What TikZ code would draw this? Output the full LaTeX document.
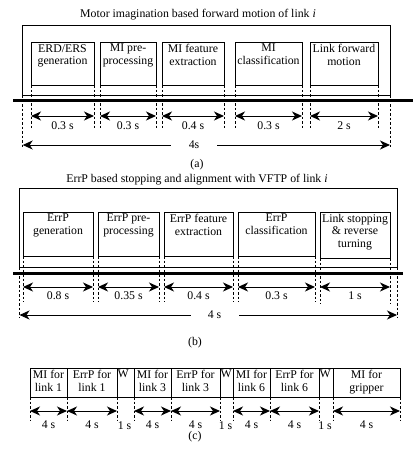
\documentclass[tikz,border=0pt]{standalone}
\usepackage{fontspec}
\setmainfont{Liberation Serif}
\usetikzlibrary{arrows.meta}
\newcommand\fs{\fontsize{11.8}{12.5}\selectfont}
\newcommand\stagebox[6]{%
  \node[stage, minimum width={(#3-#2)*1pt}, minimum height={(#5-#4)*1pt}] (#1) at ({(#2+#3)/2},{(#4+#5)/2}) {};
  \node[stagetext] (#1t) at ([yshift=-2pt]#1.north) {#6};
}
\tikzset{
  stage/.style={draw, line width=0.7pt, inner sep=0pt, outer sep=0pt},
  stagetext/.style={anchor=north, align=center, inner sep=0pt, font=\fs},
  lbl/.style={font=\fs, inner sep=1pt},
  dim/.style={{Stealth[length=10pt,width=9pt,inset=3pt]}-{Stealth[length=10pt,width=9pt,inset=3pt]}, line width=1pt},
  guide/.style={line width=0.6pt, dash pattern=on 2.5pt off 2pt},
  axisline/.style={line width=3pt},
}
\begin{document}
\begin{tikzpicture}[x=1pt,y=-1pt]
\useasboundingbox (0,0) rectangle (420,451);
% ---------------- (a)
\node[lbl] (ta) at (198,15) {Motor imagination based forward motion of link \textit{i}};
\node[stage, minimum width=367.3pt, minimum height=70pt] (oa) at (206.35,60) {};
\coordinate (la1) at (13,100); \coordinate (la2) at (413,100);
\draw[axisline] (la1) -- (la2);
\stagebox{a1}{31}{94}{42}{85}{ERD/ERS\\generation}
\stagebox{a2}{100}{156}{42}{85}{MI pre-\\processing}
\stagebox{a3}{162}{224}{42}{85}{MI feature\\extraction}
\stagebox{a4}{235}{302}{42}{85}{MI\\classification}
\stagebox{a5}{310}{378}{42}{85}{Link forward\\motion}
\foreach \b/\l in {a1/0.3 s,a2/0.3 s,a3/0.4 s,a4/0.3 s,a5/2 s}{
  \draw[guide] (\b.south west) -- ++(0,43);
  \draw[guide] (\b.south east) -- ++(0,43);
  \draw[dim] ([yshift=-31pt]\b.south west) -- ([yshift=-31pt]\b.south east)
     node[midway, below=4pt, lbl] (\b l) {\l};
}
\draw[guide] (oa.south west) -- ++(0,52);
\draw[guide] (oa.south east) -- ++(0,52);
\coordinate (ba1) at ([yshift=-50pt]oa.south west);
\coordinate (ba2) at ([yshift=-50pt]oa.south east);
\draw[dim] (ba1) -- (ba2);
\node[lbl, fill=white, minimum width=46pt] (tota) at (194,145) {4s};
\node[lbl] (capa) at (197,165) {(a)};
% ---------------- (b)
\node[lbl] (tb) at (197,180) {ErrP based stopping and alignment with VFTP of link \textit{i}};
\node[stage, minimum width=377.5pt, minimum height=79pt] (ob) at (208.25,227.5) {};
\coordinate (lb1) at (13,273); \coordinate (lb2) at (403,273);
\draw[axisline] (lb1) -- (lb2);
\stagebox{b1}{23}{93}{212}{256}{ErrP\\generation}
\stagebox{b2}{98}{159}{212}{256}{ErrP pre-\\processing}
\stagebox{b3}{164}{233}{212}{256}{ErrP feature\\extraction}
\stagebox{b4}{238}{315}{212}{256}{ErrP\\classification}
\stagebox{b5}{320}{390}{212}{258}{Link stopping\\\& reverse\\turning}
\foreach \b/\l/\d in {b1/0.8 s/31,b2/0.35 s/31,b3/0.4 s/31,b4/0.3 s/31,b5/1 s/29}{
  \draw[guide] (\b.south west) -- ++(0,46);
  \draw[guide] (\b.south east) -- ++(0,46);
  \draw[dim] ([yshift=-\d pt]\b.south west) -- ([yshift=-\d pt]\b.south east)
     node[midway, below=3pt, lbl] (\b l) {\l};
}
\draw[guide] (ob.south west) -- ++(0,51);
\draw[guide] (ob.south east) -- ++(0,51);
\coordinate (bb1) at ([yshift=-48pt]ob.south west);
\coordinate (bb2) at ([yshift=-48pt]ob.south east);
\draw[dim] (bb1) -- (bb2);
\node[lbl, fill=white, minimum width=48pt] (totb) at (214.5,315) {4 s};
\node[lbl] (capb) at (195,343) {(b)};
% ---------------- (c)
\stagebox{c1}{30}{67}{368}{397}{MI for\\link 1}
\stagebox{c2}{67}{117}{368}{397}{ErrP for\\link 1}
\stagebox{c3}{134}{171}{368}{397}{MI for\\link 3}
\stagebox{c4}{171}{220}{368}{397}{ErrP for\\link 3}
\stagebox{c5}{233}{270}{368}{397}{MI for\\link 6}
\stagebox{c6}{270}{319}{368}{397}{ErrP for\\link 6}
\stagebox{c7}{333}{400}{368}{397}{MI for\\gripper}
\foreach \n/\a/\b in {w1/117/134,w2/220/233,w3/319/333}{
  \node[stage, minimum width={(\b-\a)*1pt}, minimum height=29pt] (\n) at ({(\a+\b)/2},382.5) {};
  \node[anchor=north west, inner sep=0pt, font=\fs] (\n t) at ([yshift=-2pt, xshift=0.5pt]\n.north west) {W};
  \node[lbl] (\n l) at ({(\a+\b)/2-1},426) {1 s};
}
\foreach \b in {c1,c2,c3,c4,c5,c6,c7}{
  \draw[guide] (\b.south west) -- ++(0,23);
  \draw[guide] (\b.south east) -- ++(0,23);
  \draw[dim] ([yshift=-14pt]\b.south west) -- ([yshift=-14pt]\b.south east)
     node[midway, below=8pt, lbl] (\b l) {4 s};
}
\node[lbl] (capc) at (195,437) {(c)};
\end{tikzpicture}
\end{document}
